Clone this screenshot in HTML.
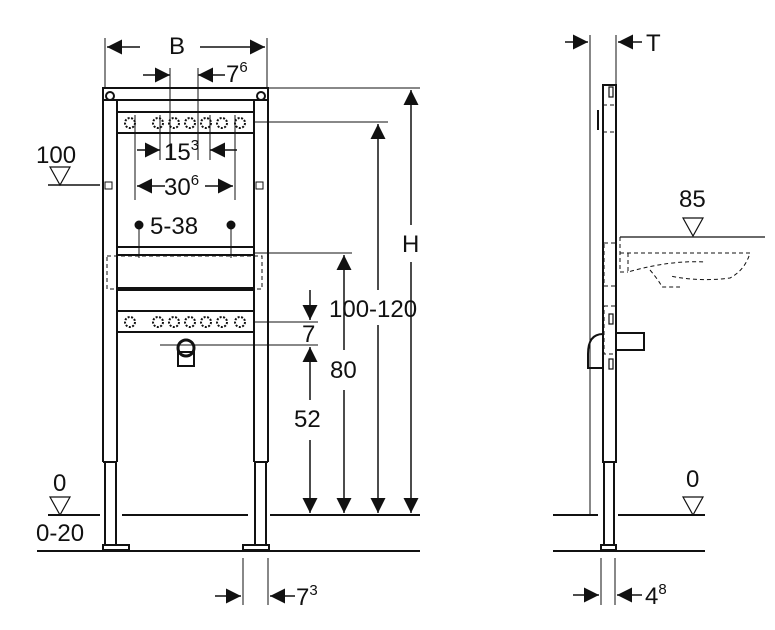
<!DOCTYPE html>
<html><head><style>body{margin:0;background:#fff}svg{display:block}text{font-family:"Liberation Sans",sans-serif;fill:#111}</style></head>
<body>
<svg width="775" height="630" viewBox="0 0 775 630" xmlns="http://www.w3.org/2000/svg">
<defs>
<marker id="b" viewBox="0 0 12 12" refX="12" refY="6" markerWidth="15" markerHeight="15" markerUnits="userSpaceOnUse" orient="auto"><path d="M0,0L12,6L0,12z" fill="#111"/></marker>
</defs>
<g stroke="#111" fill="none">
<g stroke-width="2">
<line x1="37" y1="551" x2="420" y2="551"/>
<line x1="48" y1="515" x2="100" y2="515"/><line x1="122" y1="515" x2="248" y2="515"/><line x1="270" y1="515" x2="420" y2="515"/>
<line x1="48" y1="185" x2="100" y2="185" stroke-width="1.5"/>
<line x1="553" y1="551" x2="705" y2="551"/>
<line x1="553" y1="515" x2="598" y2="515"/><line x1="618" y1="515" x2="705" y2="515"/>
</g>
<g stroke-width="2">
<rect x="103" y="88" width="165" height="12"/>
<line x1="103" y1="88" x2="103" y2="462"/><line x1="117" y1="100" x2="117" y2="462"/>
<line x1="254" y1="100" x2="254" y2="462"/><line x1="268" y1="88" x2="268" y2="462"/>
<line x1="103" y1="462" x2="117" y2="462"/><line x1="254" y1="462" x2="268" y2="462"/>
<rect x="105" y="462" width="11" height="83"/><rect x="255" y="462" width="11" height="83"/>
<rect x="103" y="545" width="26" height="5"/><rect x="243" y="545" width="26" height="5"/>
<rect x="117" y="112" width="137" height="21"/>
<rect x="117" y="311" width="137" height="21"/>
<line x1="117" y1="247" x2="254" y2="247"/>
<rect x="117" y="255" width="137" height="33"/>
<line x1="117" y1="290" x2="254" y2="290"/>
<rect x="178" y="352" width="16" height="14"/>
</g>
<circle cx="110" cy="96" r="4" stroke-width="2"/><circle cx="261" cy="96" r="4" stroke-width="2"/>
<circle cx="186" cy="348" r="8" stroke-width="3"/>
<rect x="107" y="256" width="155" height="33" stroke-dasharray="4,3" stroke-width="1"/>
<g stroke-dasharray="2,1.5" stroke-width="2">
<circle cx="130" cy="123" r="5"/><circle cx="158" cy="123" r="5"/><circle cx="174" cy="123" r="5"/><circle cx="190" cy="123" r="5"/><circle cx="206" cy="123" r="5"/><circle cx="222" cy="123" r="5"/><circle cx="240" cy="123" r="5"/>
<circle cx="130" cy="322" r="5"/><circle cx="158" cy="322" r="5"/><circle cx="174" cy="322" r="5"/><circle cx="190" cy="322" r="5"/><circle cx="206" cy="322" r="5"/><circle cx="222" cy="322" r="5"/><circle cx="240" cy="322" r="5"/>
</g>
<rect x="105" y="182" width="7" height="7" stroke-width="1"/><rect x="256" y="182" width="7" height="7" stroke-width="1"/>
<g stroke-width="1">
<line x1="105" y1="38" x2="105" y2="88"/><line x1="267" y1="38" x2="267" y2="88"/>
<line x1="170" y1="68" x2="170" y2="160"/><line x1="198" y1="68" x2="198" y2="160"/>
<line x1="135" y1="115" x2="135" y2="200"/><line x1="160" y1="115" x2="160" y2="160"/><line x1="210" y1="115" x2="210" y2="160"/><line x1="235" y1="115" x2="235" y2="200"/>
<line x1="139" y1="225" x2="139" y2="258"/><line x1="231" y1="225" x2="231" y2="258"/>
<line x1="268" y1="88" x2="420" y2="88"/><line x1="253" y1="122" x2="388" y2="122"/><line x1="253" y1="253" x2="352" y2="253"/><line x1="253" y1="322" x2="318" y2="322"/><line x1="160" y1="345" x2="318" y2="345"/>
<line x1="243" y1="558" x2="243" y2="605"/><line x1="268" y1="558" x2="268" y2="605"/>
<line x1="601" y1="558" x2="601" y2="605"/><line x1="615" y1="558" x2="615" y2="605"/>
<line x1="590" y1="35" x2="590" y2="515"/><line x1="616" y1="35" x2="616" y2="88"/>
</g>
<g stroke-width="1.5">
<line x1="140" y1="47" x2="107" y2="47" marker-end="url(#b)"/><line x1="200" y1="47" x2="265" y2="47" marker-end="url(#b)"/>
<line x1="143" y1="75" x2="170" y2="75" marker-end="url(#b)"/><line x1="225" y1="75" x2="198" y2="75" marker-end="url(#b)"/>
<line x1="137" y1="150" x2="160" y2="150" marker-end="url(#b)"/><line x1="237" y1="150" x2="210" y2="150" marker-end="url(#b)"/>
<line x1="165" y1="186" x2="137" y2="186" marker-end="url(#b)"/><line x1="205" y1="186" x2="233" y2="186" marker-end="url(#b)"/>
<line x1="411" y1="225" x2="411" y2="90" marker-end="url(#b)"/><line x1="411" y1="262" x2="411" y2="513" marker-end="url(#b)"/>
<line x1="378" y1="290" x2="378" y2="124" marker-end="url(#b)"/><line x1="378" y1="325" x2="378" y2="513" marker-end="url(#b)"/>
<line x1="344" y1="350" x2="344" y2="255" marker-end="url(#b)"/><line x1="344" y1="390" x2="344" y2="513" marker-end="url(#b)"/>
<line x1="310" y1="290" x2="310" y2="320" marker-end="url(#b)"/><line x1="310" y1="400" x2="310" y2="347" marker-end="url(#b)"/><line x1="310" y1="440" x2="310" y2="513" marker-end="url(#b)"/>
<line x1="215" y1="596" x2="241" y2="596" marker-end="url(#b)"/><line x1="295" y1="596" x2="270" y2="596" marker-end="url(#b)"/>
<line x1="565" y1="42" x2="588" y2="42" marker-end="url(#b)"/><line x1="642" y1="42" x2="618" y2="42" marker-end="url(#b)"/>
<line x1="573" y1="595" x2="599" y2="595" marker-end="url(#b)"/><line x1="642" y1="595" x2="617" y2="595" marker-end="url(#b)"/>
</g>
<circle cx="139" cy="225" r="4" fill="#111"/><circle cx="231" cy="225" r="4" fill="#111"/>
<g stroke-width="1.2">
<path d="M50,167L70,167L60,185z"/><path d="M50,497L70,497L60,515z"/>
<path d="M683,497L703,497L693,515z"/><path d="M683,218L703,218L693,236z"/>
</g>
<g stroke-width="2">
<rect x="603" y="85" width="13" height="377"/>
<rect x="604" y="462" width="10" height="83"/>
<rect x="601" y="545" width="15" height="5"/>
<rect x="616" y="333" width="28" height="17"/>
<path d="M603,334Q588,334 588,354L588,368L603,368"/>
</g>
<g stroke-width="1.2">
<rect x="609" y="87" width="4" height="10"/><rect x="609" y="314" width="4" height="10"/><rect x="609" y="359" width="4" height="10"/>
<line x1="598" y1="110" x2="598" y2="130" stroke-width="2"/>
<line x1="620" y1="237" x2="765" y2="237"/>
</g>
<g stroke-width="1" stroke-dasharray="4,3">
<rect x="603" y="105" width="13" height="27"/><rect x="604" y="243" width="12" height="43"/><rect x="604" y="306" width="12" height="48"/>
<path d="M620,237L620,272L628,272M620,253L750,253Q745,270 730,278Q700,282 670,276M628,253L628,272Q670,260 705,262M650,270Q660,282 662,287L680,287"/>
</g>
</g>
<g font-size="24">
<text x="169" y="54">B</text>
<text x="226" y="82">7<tspan font-size="15" dy="-10">6</tspan></text>
<text x="164" y="160">15<tspan font-size="15" dy="-10">3</tspan></text>
<text x="164" y="195">30<tspan font-size="15" dy="-10">6</tspan></text>
<text x="150" y="234">5-38</text>
<text x="36" y="163">100</text>
<text x="53" y="491">0</text>
<text x="36" y="541">0-20</text>
<text x="402" y="252">H</text>
<text x="329" y="317">100-120</text>
<text x="330" y="378">80</text>
<text x="302" y="342">7</text>
<text x="294" y="427">52</text>
<text x="296" y="605">7<tspan font-size="15" dy="-10">3</tspan></text>
<text x="646" y="51">T</text>
<text x="679" y="207">85</text>
<text x="686" y="487">0</text>
<text x="645" y="604">4<tspan font-size="15" dy="-10">8</tspan></text>
</g>
</svg>
</body></html>
